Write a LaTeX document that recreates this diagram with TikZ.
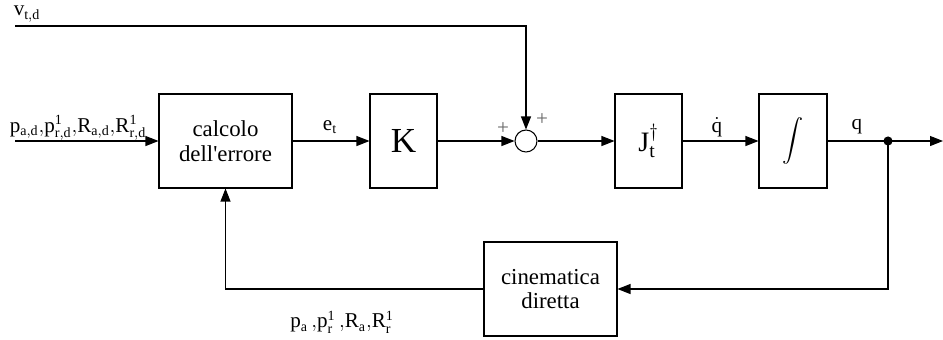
\documentclass[tikz,border=0pt]{standalone}
\usepackage{amsmath}
\usepackage{fontspec}
\setmainfont{Liberation Serif}[Ligatures=TeXOff]
\setmathrm{Liberation Serif}
\usepackage{tikz}
\usetikzlibrary{arrows.meta}

\begin{document}
\begin{tikzpicture}[x=0.02cm, y=-0.02cm, >={Triangle[length=2.6mm,width=2mm]}, line width=0.6pt,
    blk/.style={draw, minimum height=1.88cm, align=center, font=\fontsize{13}{14}\selectfont},
    lbl/.style={inner sep=0pt, font=\fontsize{12}{14}\selectfont}]
    \useasboundingbox (0,0) rectangle (943,339);

    % Blocks
    \node[blk, minimum width=2.66cm] (calc) at (225.5,141) {calcolo\\dell'errore};
    \node[blk, minimum width=1.34cm, font=\fontsize{20}{22}\selectfont] (gain) at (403.5,141) {K};
    \node[draw, circle, minimum size=0.44cm, inner sep=0pt] (sum) at (526,141) {};
    \node[blk, minimum width=1.34cm, font=\fontsize{16}{19}\selectfont] (pinv) at (648.5,141) {$\mathrm{J}_{\mathrm{t}}^{\dagger}$};
    \node[blk, minimum width=1.36cm, font=\fontsize{12}{14}\selectfont] (integ) at (793,141) {$\displaystyle\int$};
    \node[blk, minimum width=2.66cm] (kin) at (550.5,289) {cinematica\\diretta};
    \fill (888,141) circle (2.6pt) coordinate (branch);

    % Free ends
    \coordinate (in) at (15,141);
    \coordinate (vin) at (15,26);
    \coordinate (out) at (943,141);

    % Signals
    \draw[->] (in) -- (calc);
    \draw[->] (calc) -- (gain);
    \draw[->] (gain) -- (sum);
    \draw[->] (vin) -| (sum);
    \draw[->] (sum) -- (pinv);
    \draw[->] (pinv) -- (integ);
    \draw (integ) -- (branch);
    \draw[->] (branch) -- (out);
    \draw[->] (branch) |- (kin);
    \draw[->] (kin) -| (calc);

    % Labels
    \node[lbl] (lblv) at (27,14) {$\mathrm{v}_{\mathrm{t,d}}$};
    \node[lbl] (lblin) at (78,128) {$\mathrm{p}_{\mathrm{a,d}}{,}\mathrm{p}^{\mathrm{1}}_{\mathrm{r,d}}{,}\mathrm{R}_{\mathrm{a,d}}{,}\mathrm{R}^{\mathrm{1}}_{\mathrm{r,d}}$};
    \node[lbl] (lblet) at (330,127) {$\mathrm{e}_{\mathrm{t}}$};
    \node[lbl] (lblqd) at (717,127) {$\dot{\mathrm{q}}$};
    \node[lbl] (lblq) at (857,127) {$\mathrm{q}$};
    \node[lbl] (lblfb) at (342,322) {$\mathrm{p}_{\mathrm{a}}\,{,}\mathrm{p}^{\mathrm{1}}_{\mathrm{r}}\,{,}\mathrm{R}_{\mathrm{a}}{,}\mathrm{R}^{\mathrm{1}}_{\mathrm{r}}$};
    \node[lbl, gray!80!black] (plusl) at (503,129) {+};
    \node[lbl, gray!80!black] (plust) at (542,120) {+};
\end{tikzpicture}
\end{document}
